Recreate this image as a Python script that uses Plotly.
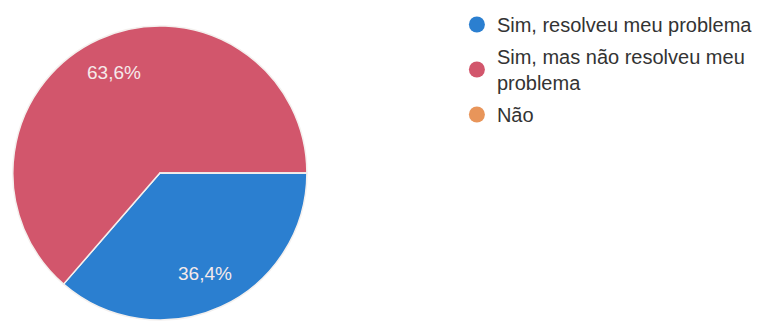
import math
import plotly.graph_objects as go

# Survey answers (counts) and their colours
labels = ["Sim, resolveu meu problema", "Sim, mas não resolveu meu problema", "Não"]
legend_names = ["Sim, resolveu meu problema", "Sim, mas não resolveu meu<br>problema", "Não"]
counts = [4, 7, 0]
colors = ["#2b7fd0", "#d2566c", "#e8955a"]

W, H = 758, 322
FONT = "Arial, 'Liberation Sans', sans-serif"

# Pie placement in pixels
CX, CY, R = 162, 173, 149
START_DEG = 90  # first slice starts at 3 o'clock, runs clockwise

fig = go.Figure()

fig.add_trace(go.Pie(
    labels=labels,
    values=counts,
    sort=False,
    direction="clockwise",
    rotation=START_DEG,
    marker=dict(colors=colors, line=dict(color="#f4f0ee", width=1.5)),
    textinfo="none",
    hoverinfo="label+percent",
    showlegend=False,
    domain=dict(x=[(CX - R) / W, (CX + R) / W], y=[0, 2 * R / H]),
))

# Percentage labels placed at each slice's middle angle
total = sum(counts)
acc = 0.0
for c in counts:
    if c == 0:
        continue
    frac = c / total
    mid = acc + frac / 2
    acc += frac
    ang = math.radians(mid * 360)  # clockwise from 3 o'clock
    px = CX + 0.745 * R * math.cos(ang)
    py = CY + 0.745 * R * math.sin(ang)
    txt = f"{frac * 100:.1f}%".replace(".", ",")
    fig.add_annotation(
        x=px / W, y=1 - py / H, xref="paper", yref="paper",
        text=txt, showarrow=False, xanchor="center", yanchor="middle",
        font=dict(family=FONT, size=19, color="#f6eaea"),
    )

# Legend entries with round swatches
for i, (name, col) in enumerate(zip(legend_names, colors)):
    fig.add_trace(go.Scatter(
        x=[None], y=[None], mode="markers", name=name,
        legendgroup=f"g{i}",
        marker=dict(symbol="circle", size=16, color=col),
        hoverinfo="skip",
    ))

fig.update_layout(
    width=W, height=H,
    margin=dict(l=0, r=0, t=0, b=0),
    paper_bgcolor="#ffffff",
    plot_bgcolor="rgba(0,0,0,0)",
    xaxis=dict(visible=False),
    yaxis=dict(visible=False),
    legend=dict(
        x=463 / W, xanchor="left",
        y=1 - 5 / H, yanchor="top",
        font=dict(family=FONT, size=20, color="#333333"),
        bgcolor="rgba(0,0,0,0)",
        itemsizing="trace",
        traceorder="grouped",
        tracegroupgap=3,
    ),
)

fig.write_html("out.html")
